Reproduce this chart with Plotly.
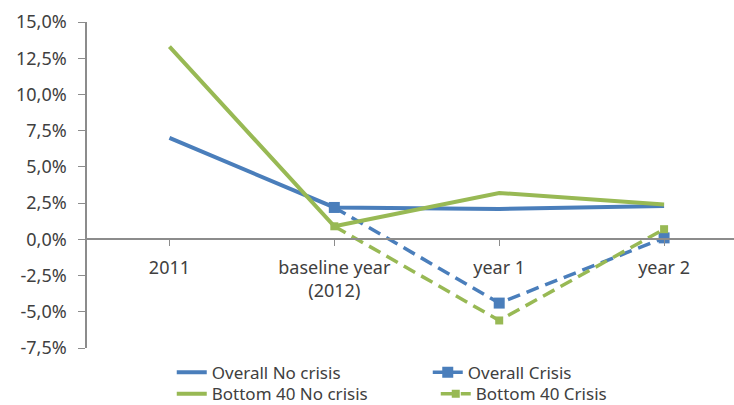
import plotly.graph_objects as go

categories = ["2011", "baseline year<br>(2012)", "year 1", "year 2"]
overall_no_crisis = [7.0, 2.2, 2.1, 2.3]
bottom40_no_crisis = [13.3, 0.9, 3.2, 2.4]
overall_crisis = [None, 2.2, -4.4, 0.1]
bottom40_crisis = [None, 0.9, -5.6, 0.7]
y_ticks = [-7.5, -5.0, -2.5, 0.0, 2.5, 5.0, 7.5, 10.0, 12.5, 15.0]

BLUE = "#4A7EBB"
GREEN = "#98B954"
TXT = "#404040"
FONT = "Noto Sans"
FS = 18

x = list(range(len(categories)))

fig = go.Figure()
fig.add_trace(go.Scatter(x=x, y=overall_no_crisis, name="Overall No crisis", mode="lines",
                         line=dict(color=BLUE, width=4), legend="legend"))
fig.add_trace(go.Scatter(x=x, y=overall_crisis, name="Overall Crisis", mode="lines+markers",
                         line=dict(color=BLUE, width=3.5, dash="13px,7px"),
                         marker=dict(symbol="square", size=11, color=BLUE), legend="legend"))
fig.add_trace(go.Scatter(x=x, y=bottom40_no_crisis, name="Bottom 40 No crisis", mode="lines",
                         line=dict(color=GREEN, width=4), legend="legend2"))
fig.add_trace(go.Scatter(x=x, y=bottom40_crisis, name="Bottom 40 Crisis", mode="lines+markers",
                         line=dict(color=GREEN, width=3.5, dash="13px,7px"),
                         marker=dict(symbol="square", size=8, color=GREEN), legend="legend2"))

ymin, ymax = y_ticks[0], y_ticks[-1]
legend_common = dict(orientation="h", xanchor="left", yanchor="middle",
                     entrywidthmode="pixels", bgcolor="rgba(0,0,0,0)",
                     font=dict(family=FONT, size=17, color=TXT))
fig.update_layout(
    width=734, height=405,
    margin=dict(l=87, r=0, t=22, b=57, autoexpand=False),
    paper_bgcolor="white", plot_bgcolor="white",
    font=dict(family=FONT, size=FS, color=TXT),
    xaxis=dict(
        range=[-0.5, 3.424],
        tickvals=x, ticktext=categories,
        showgrid=False, zeroline=False,
        showline=True, linecolor="#8C8C8C", linewidth=1.5,
        ticks="outside", tickson="boundaries", ticklen=6, tickcolor="#8C8C8C",
        anchor="free", position=(0 - ymin) / (ymax - ymin),
        ticklabelstandoff=6,
        tickfont=dict(family=FONT, size=FS, color=TXT),
    ),
    yaxis=dict(
        range=[ymin, ymax],
        tickvals=y_ticks, ticktext=[("%.1f%%" % v).replace(".", ",") for v in y_ticks],
        showgrid=False, zeroline=False,
        showline=True, linecolor="#8C8C8C", linewidth=1.5,
        ticks="outside", ticklen=7, tickcolor="#8C8C8C",
        ticklabelstandoff=8,
        tickfont=dict(family=FONT, size=FS, color=TXT),
    ),
    legend=dict(legend_common, x=0.131, y=-0.076, entrywidth=211),
    legend2=dict(legend_common, x=0.131, y=-0.142, entrywidth=219),
    showlegend=True,
)

fig.write_html(
    "out.html",
    config={"displayModeBar": False},
    post_script="document.body.style.margin='0';document.body.style.overflow='hidden';",
)
